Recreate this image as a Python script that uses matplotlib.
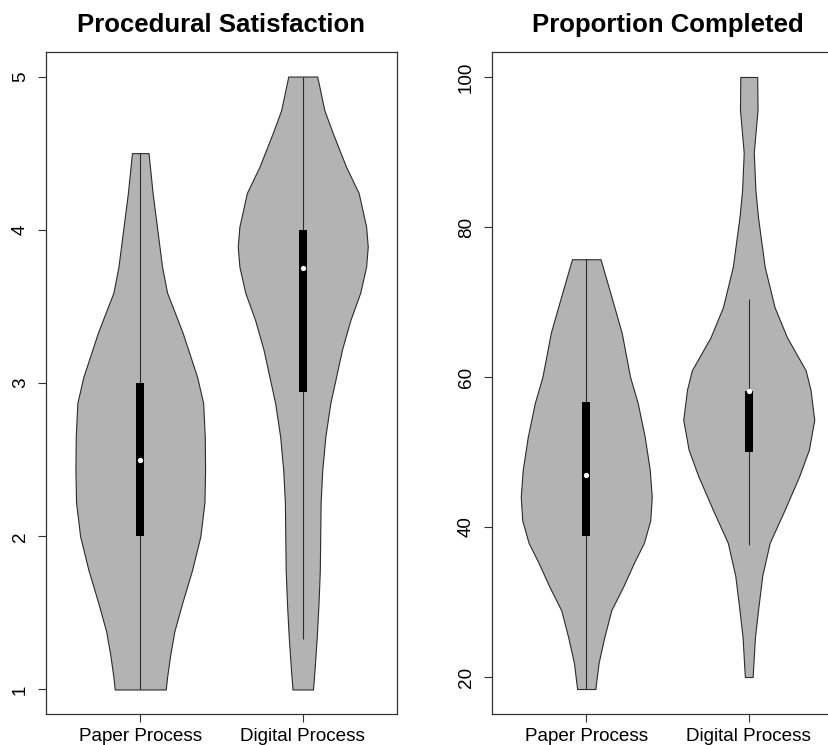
import matplotlib
matplotlib.use('Agg')
import matplotlib.pyplot as plt
import numpy as np

plt.rcParams['font.family'] = ['Liberation Sans', 'DejaVu Sans']

groups = ['Paper Process', 'Digital Process']
titles = ['Procedural Satisfaction', 'Proportion Completed']

# --- Procedural Satisfaction: violin half-width profiles (value, half-width) ---
sat_paper_y = [1.0, 1.08, 1.23, 1.38, 1.56, 1.78, 2.0, 2.22, 2.43, 2.65, 2.87, 3.04, 3.33, 3.59, 3.76, 4.24, 4.5]
sat_paper_w = [0.157, 0.165, 0.185, 0.21, 0.257, 0.319, 0.37, 0.395, 0.399, 0.397, 0.387, 0.35, 0.26, 0.165, 0.134, 0.076, 0.051]
sat_digital_y = [1.0, 1.12, 1.34, 1.56, 1.78, 2.22, 2.43, 2.65, 2.87, 3.04, 3.22, 3.41, 3.59, 3.76, 3.89, 4.02, 4.24, 4.41, 4.63, 4.78, 5.0]
sat_digital_w = [0.063, 0.072, 0.086, 0.097, 0.105, 0.110, 0.120, 0.139, 0.17, 0.205, 0.242, 0.293, 0.354, 0.39, 0.4, 0.39, 0.344, 0.267, 0.185, 0.133, 0.089]
# box stats: q1, median, q3, whisker low, whisker high
sat_paper_stats = [2.0, 2.5, 3.0, 1.0, 4.5]
sat_digital_stats = [2.94, 3.75, 4.0, 1.33, 5.0]

# --- Proportion Completed ---
prop_paper_y = [18.4, 21.9, 25.3, 28.9, 32.0, 35.2, 37.9, 40.9, 44.0, 47.6, 52.0, 56.5, 60.0, 65.9, 70.3, 75.7]
prop_paper_w = [0.056, 0.076, 0.111, 0.154, 0.226, 0.293, 0.355, 0.394, 0.403, 0.391, 0.36, 0.317, 0.27, 0.218, 0.16, 0.088]
prop_digital_y = [20.0, 25.3, 28.9, 33.5, 37.9, 42.3, 46.7, 50.3, 54.3, 58.3, 60.9, 65.3, 69.3, 74.7, 81.3, 84.9, 89.9, 95.6, 100.0]
prop_digital_w = [0.024, 0.038, 0.057, 0.083, 0.129, 0.221, 0.309, 0.37, 0.403, 0.38, 0.35, 0.235, 0.159, 0.098, 0.057, 0.041, 0.031, 0.054, 0.052]
prop_paper_stats = [38.8, 47.0, 56.7, 18.4, 75.7]
prop_digital_stats = [50.0, 58.2, 58.2, 37.6, 70.4]

sat_ticks = [1, 2, 3, 4, 5]
prop_ticks = [20, 40, 60, 80, 100]

W, H = 829, 745
fig = plt.figure(figsize=(W / 100, H / 100), dpi=100)

fill_col = '#B3B3B3'
line_col = '#2b2b2b'


def draw_panel(ax, profiles, stats, ticks, ylim, title):
    for i, ((ys, ws), st) in enumerate(zip(profiles, stats)):
        x = i + 1
        ys = np.asarray(ys)
        ws = np.asarray(ws)
        ax.fill_betweenx(ys, x - ws, x + ws, facecolor=fill_col,
                         edgecolor=line_col, linewidth=0.8, zorder=1)
        q1, med, q3, lo, hi = st
        ax.vlines(x, lo, hi, color=line_col, linewidth=0.8, zorder=2)
        ax.bar(x, q3 - q1, bottom=q1, width=0.052, color='black', zorder=3)
        ax.plot([x], [med], 'o', color='white', markersize=3.8,
                markeredgewidth=0, zorder=4)
    ax.set_xlim(0.42, 2.58)
    ax.set_ylim(*ylim)
    ax.set_xticks([1, 2])
    ax.set_xticklabels(groups, fontsize=13.6)
    ax.set_yticks(ticks)
    ax.set_yticklabels([str(t) for t in ticks], fontsize=13.6,
                       rotation=90, va='center', ha='right')
    ax.tick_params(axis='x', length=5.8, width=0.8, pad=4.3, color='#333333')
    ax.tick_params(axis='y', length=5.8, width=0.8, pad=6.5, color='#333333')
    for s in ax.spines.values():
        s.set_color('#333333')
        s.set_linewidth(0.9)
    ax.set_title(title, fontsize=18.5, fontweight='bold', pad=14.4)


ax1 = fig.add_axes([46 / W, 31 / H, 351 / W, 662 / H])
draw_panel(ax1, [(sat_paper_y, sat_paper_w), (sat_digital_y, sat_digital_w)],
           [sat_paper_stats, sat_digital_stats], sat_ticks, (0.84, 5.16), titles[0])

ax2 = fig.add_axes([492 / W, 31 / H, 351 / W, 662 / H])
draw_panel(ax2, [(prop_paper_y, prop_paper_w), (prop_digital_y, prop_digital_w)],
           [prop_paper_stats, prop_digital_stats], prop_ticks, (15.07, 103.33), titles[1])

fig.savefig('out.png', dpi=100)
